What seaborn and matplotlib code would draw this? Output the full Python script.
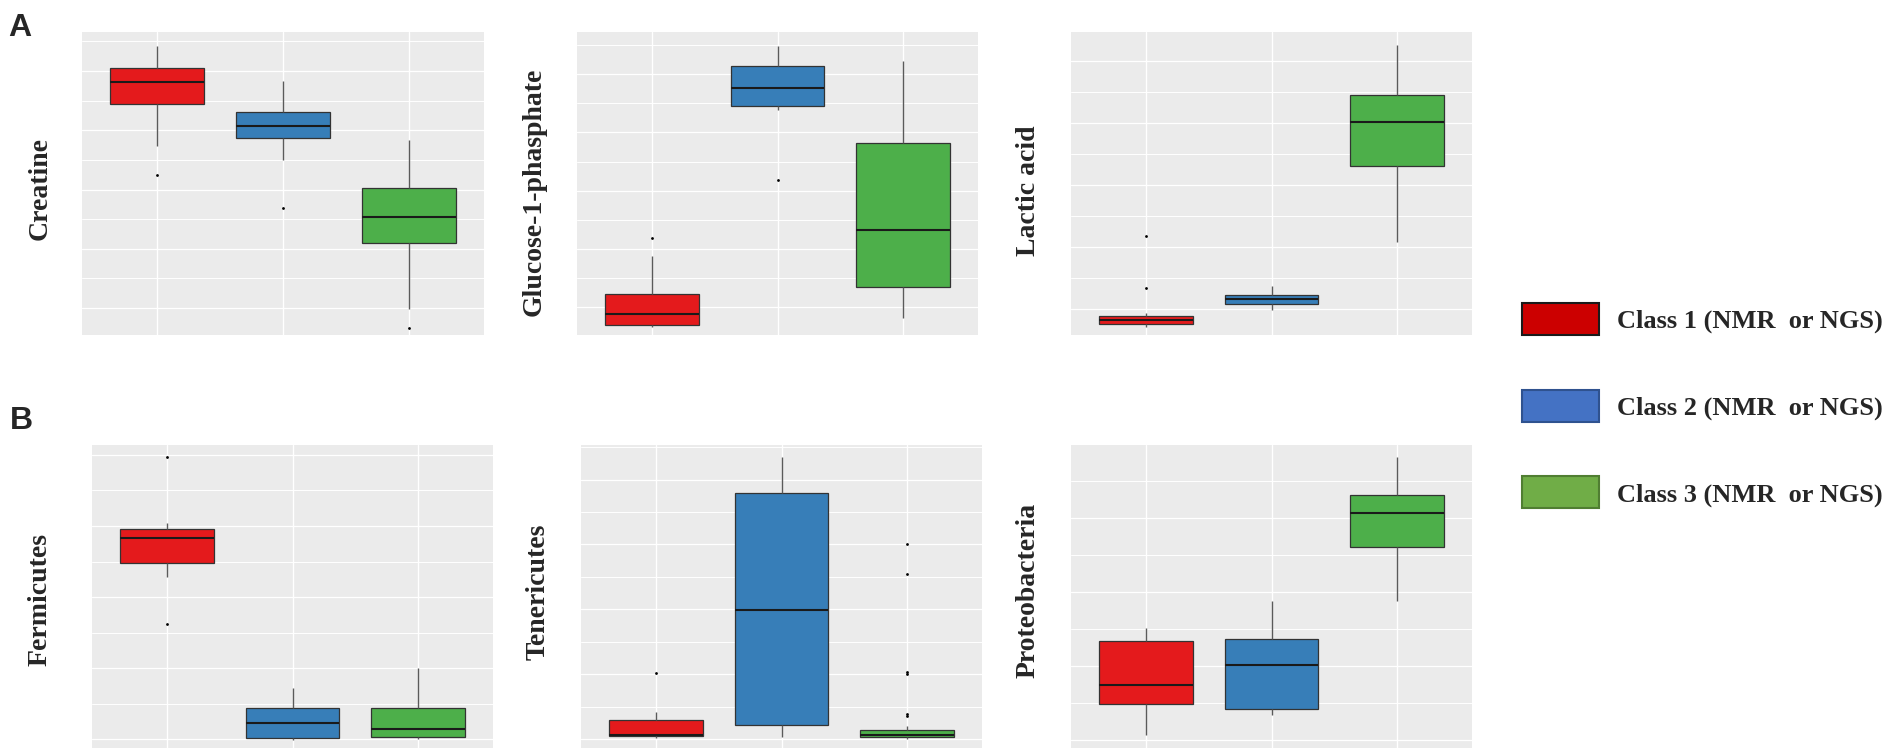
import numpy as np
import pandas as pd
import matplotlib
matplotlib.use("Agg")
import matplotlib.pyplot as plt
import seaborn as sns
from matplotlib.patches import Patch
from matplotlib.ticker import MultipleLocator
from matplotlib.font_manager import FontProperties

# ---------------- data ----------------
classes = ["Class 1", "Class 2", "Class 3"]
legend_labels = ["Class 1 (NMR  or NGS)", "Class 2 (NMR  or NGS)", "Class 3 (NMR  or NGS)"]
box_colors = ["#E41A1C", "#377EB8", "#4DAF4A"]
legend_colors = ["#CC0000", "#4472C4", "#70AD47"]
legend_edges = ["#1A1A1A", "#2F528F", "#507E32"]

panel_names = ["Creatine", "Glucose-1-phasphate", "Lactic acid",
               "Fermicutes", "Tenericutes", "Proteobacteria"]

# per class: (lower whisker, Q1, median, Q3, upper whisker)
creatine_stats = [(5.47, 6.89, 7.64, 8.11, 8.85), (5.00, 5.74, 6.15, 6.62, 7.67), (-0.03, 2.20, 3.07, 4.05, 5.68)]
creatine_outliers = [[4.49], [3.38], [-0.68]]

glucose_stats = [(-0.69, -0.62, -0.24, 0.45, 1.75), (6.77, 6.91, 7.53, 8.28, 8.97), (-0.38, 0.69, 2.65, 5.64, 8.45)]
glucose_outliers = [[2.37], [4.36], []]

lactic_stats = [(-0.58, -0.48, -0.35, -0.23, -0.13), (-0.03, 0.16, 0.32, 0.45, 0.74), (2.16, 4.61, 6.03, 6.90, 8.52)]
lactic_outliers = [[0.68, 2.35], [], []]

fermicutes_stats = [(4.56, 4.96, 5.66, 5.92, 6.08), (-0.03, 0.03, 0.45, 0.87, 1.44), (0.00, 0.06, 0.28, 0.87, 2.00)]
fermicutes_outliers = [[3.24, 7.94], [], []]

tenericutes_stats = [(0.03, 0.09, 0.12, 0.59, 0.83), (0.06, 0.43, 3.98, 7.59, 8.70), (0.00, 0.06, 0.12, 0.28, 0.40)]
tenericutes_outliers = [[2.04], [], [0.71, 0.77, 2.01, 2.07, 5.09, 6.02]]

proteo_stats = [(0.14, 0.97, 1.49, 2.68, 3.03), (0.68, 0.84, 2.03, 2.73, 3.76), (3.76, 5.22, 6.14, 6.62, 7.65)]
proteo_outliers = [[], [], []]

panel_stats = [creatine_stats, glucose_stats, lactic_stats,
               fermicutes_stats, tenericutes_stats, proteo_stats]
panel_outliers = [creatine_outliers, glucose_outliers, lactic_outliers,
                  fermicutes_outliers, tenericutes_outliers, proteo_outliers]
panel_ylims = [(-0.91, 9.32), (-0.96, 9.45), (-0.84, 8.94),
               (-0.25, 8.28), (-0.28, 9.07), (-0.22, 7.97)]


def expand(stats, outliers):
    """Build observations whose boxplot summary equals the given stats."""
    lo, q1, med, q3, hi = stats
    low_out = sorted(o for o in outliers if o < lo)
    high_out = sorted(o for o in outliers if o > hi)
    k = max(len(low_out), len(high_out)) + 1
    lower = low_out + [lo] + [q1] * (k - len(low_out) - 1)
    upper = [q3] * (k - len(high_out) - 1) + [hi] + high_out
    return lower + [q1] + [med] * (k - 1) + [med] + [med] * (k - 1) + [q3] + upper


# ---------------- styling ----------------
sns.set_style("darkgrid", {"axes.facecolor": "#EBEBEB", "grid.color": "white"})
plt.rcParams["font.family"] = ["Liberation Serif", "DejaVu Serif"]

fig = plt.figure(figsize=(19.04, 7.5), dpi=100)
W, H = 1904.0, 750.0

# panel boxes in pixels: (left, top, right, bottom)
panel_px = [(82, 32, 484, 335), (577, 32, 978, 335), (1071, 32, 1472, 335),
            (92, 445, 493, 748), (581, 445, 982, 748), (1071, 445, 1472, 748)]
label_x = [-0.104, -0.107, -0.105, -0.13, -0.107, -0.107]
label_y = [0.483, 0.472, 0.477, 0.49, 0.516, 0.52]

for i in range(6):
    l, t, r, b = panel_px[i]
    ax = fig.add_axes([l / W, 1 - b / H, (r - l) / W, (b - t) / H])
    rows = []
    for c, st, outs in zip(classes, panel_stats[i], panel_outliers[i]):
        for v in expand(st, outs):
            rows.append((c, v))
    df = pd.DataFrame(rows, columns=["cls", "val"])
    sns.boxplot(data=df, x="cls", y="val", hue="cls", order=classes, hue_order=classes,
                palette=box_colors, saturation=1, width=0.75, linecolor="#333333",
                linewidth=0.9, fliersize=2.0, showcaps=False,
                whiskerprops=dict(color="#5A5A5A", linewidth=1.0),
                medianprops=dict(color="#1A1A1A", linewidth=1.5),
                flierprops=dict(marker="o", markerfacecolor="black",
                                markeredgecolor="black", markeredgewidth=0),
                legend=False, ax=ax)
    ax.set_xlim(-0.6, 2.6)
    ax.set_ylim(*panel_ylims[i])
    ax.set_facecolor("#EBEBEB")
    ax.set_axisbelow(True)
    ax.yaxis.set_major_locator(MultipleLocator(2))
    ax.yaxis.set_minor_locator(MultipleLocator(1))
    ax.grid(True, axis="x", which="major", color="white", linewidth=1.0)
    ax.grid(True, axis="y", which="major", color="white", linewidth=0.9)
    ax.grid(True, axis="y", which="minor", color="white", linewidth=0.7)
    ax.tick_params(which="both", length=0, labelbottom=False, labelleft=False)
    for s in ax.spines.values():
        s.set_visible(False)
    ax.set_xlabel("")
    ax.set_ylabel(panel_names[i], fontsize=20, fontweight="bold",
                  family=["Liberation Serif", "DejaVu Serif"], va="center")
    ax.yaxis.set_label_coords(label_x[i], label_y[i])

# panel letters
fig.text(8 / W, 1 - 36 / H, "A", fontsize=23, fontweight="bold",
         family=["Liberation Sans", "DejaVu Sans"], va="baseline", ha="left")
fig.text(10 / W, 1 - 429 / H, "B", fontsize=23, fontweight="bold",
         family=["Liberation Sans", "DejaVu Sans"], va="baseline", ha="left")

# legend
handles = [Patch(facecolor=fc, edgecolor=ec, linewidth=1.5, label=lab)
           for fc, ec, lab in zip(legend_colors, legend_edges, legend_labels)]
fig.legend(handles=handles, loc="upper left", bbox_to_anchor=(1522 / W, 1 - 303 / H),
           frameon=False, prop=FontProperties(family="Liberation Serif", weight="bold", size=19),
           handlelength=2.92, handleheight=1.48, labelspacing=2.08, handletextpad=0.68,
           borderpad=0, borderaxespad=0)

fig.savefig("out.png", dpi=100, facecolor="white")
